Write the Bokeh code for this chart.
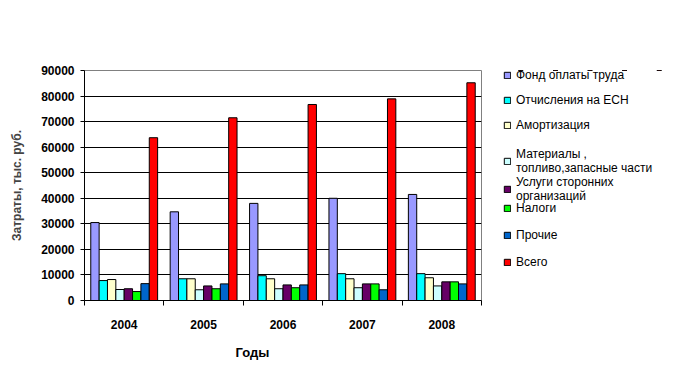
from bokeh.plotting import figure
from bokeh.layouts import row
from bokeh.models import (FactorRange, Range1d, LinearAxis, FixedTicker, Legend,
                          LegendItem, Title, ColumnDataSource)
from bokeh.transform import dodge
from bokeh.embed import file_html
from bokeh.resources import INLINE

years = ["2004", "2005", "2006", "2007", "2008"]
series_names = ["Фонд оплаты труда", "Отчисления на ЕСН", "Амортизация",
                "Материалы ,\nтопливо,запасные части", "Услуги сторонних\nорганизаций",
                "Налоги", "Прочие", "Всего"]
fond = [30500, 34700, 38000, 40000, 41500]
esn = [7800, 8500, 9700, 10500, 10500]
amort = [8200, 8500, 8500, 8500, 8900]
mater = [4300, 4200, 4600, 5000, 5700]
uslugi = [4600, 5700, 6100, 6500, 7300]
nalogi = [3500, 4600, 5000, 6500, 7300]
prochie = [6600, 6500, 6100, 4200, 6500]
vsego = [63700, 71500, 76700, 78900, 85200]
colors = ["#9999FF", "#00FFFF", "#FFFFCC", "#CCFFFF", "#660066", "#00FF00", "#0066CC", "#FF0000"]
y_ticks = [0, 10000, 20000, 30000, 40000, 50000, 60000, 70000, 80000, 90000]

series = [fond, esn, amort, mater, uslugi, nalogi, prochie, vsego]
keys = ["s%d" % i for i in range(len(series))]
data = {"year": years}
for k, s in zip(keys, series):
    data[k] = s
src = ColumnDataSource(data)

FONT = "Liberation Sans"

p = figure(x_range=FactorRange(factors=years), y_range=Range1d(0, 90000),
           width=490, height=384, output_backend="svg", toolbar_location=None,
           x_axis_location=None,
           min_border_left=84, min_border_right=9, min_border_top=70, min_border_bottom=84)
p.background_fill_color = "white"
p.border_fill_color = "white"
p.outline_line_color = "#808080"

n = len(series)
w = 1.0 / (n + 1.5)
for i, (k, c) in enumerate(zip(keys, colors)):
    off = (i - (n - 1) / 2.0) * w
    p.vbar(x=dodge("year", off, range=p.x_range), top=k, width=w, source=src,
           fill_color=c, line_color="black", line_width=1)

# x axis on the factor range's synthetic coordinates:
# labels at category centres, tick marks at category edges
xt = FixedTicker(ticks=[i + 0.5 for i in range(len(years))],
                 minor_ticks=list(range(len(years) + 1)))
xaxis = LinearAxis(ticker=xt,
                   major_label_overrides={i + 0.5: y for i, y in enumerate(years)})
xaxis.major_tick_out = 0
xaxis.major_tick_in = 0
xaxis.minor_tick_out = 5
xaxis.minor_tick_in = 0
xaxis.minor_tick_line_color = "black"
xaxis.axis_line_color = "black"
xaxis.major_label_standoff = 14
xaxis.major_label_text_font = FONT
xaxis.major_label_text_font_size = "12px"
xaxis.major_label_text_font_style = "bold"
xaxis.major_label_text_color = "black"
p.add_layout(xaxis, "below")

p.add_layout(Title(text="Годы", align="left", offset=151, standoff=23,
                   text_font=FONT, text_font_size="13px", text_font_style="bold",
                   text_color="black"), "below")

yax = p.yaxis[0]
yax.ticker = FixedTicker(ticks=y_ticks)
yax.major_tick_out = 4
yax.major_tick_in = 0
yax.minor_tick_line_color = None
yax.axis_line_color = "black"
yax.major_label_standoff = 6
yax.major_label_text_font = FONT
yax.major_label_text_font_size = "12px"
yax.major_label_text_font_style = "bold"
yax.major_label_text_color = "black"
yax.axis_label = "Затраты, тыс. руб."
yax.axis_label_text_font = FONT
yax.axis_label_text_font_size = "12px"
yax.axis_label_text_font_style = "bold"
yax.axis_label_standoff = 14

p.xgrid.visible = False
p.ygrid.ticker = FixedTicker(ticks=y_ticks)
p.ygrid.grid_line_color = "black"
p.ygrid.grid_line_width = 1

# legend panel: a second, axis-less figure holding only the legend.
# Its swatch renderers draw the same series, but outside its visible y range.
lf = figure(x_range=FactorRange(factors=years), y_range=Range1d(-2, -1),
            width=186, height=384, output_backend="svg", toolbar_location=None,
            x_axis_location=None, y_axis_location=None,
            min_border_left=13, min_border_right=0, min_border_top=0, min_border_bottom=0)
lf.outline_line_color = None
lf.xgrid.visible = False
lf.ygrid.visible = False
lf.background_fill_color = "white"
lf.border_fill_color = "white"
swatches = [lf.vbar(x="year", top=k, width=w, source=src, fill_color=c,
                    line_color="black", line_width=1)
            for k, c in zip(keys, colors)]
items = [LegendItem(label=nm, renderers=[r]) for nm, r in zip(series_names, swatches)]

common = dict(orientation="vertical", border_line_color=None, background_fill_alpha=0,
              padding=0, margin=0, glyph_width=8, glyph_height=8, label_standoff=5,
              label_height=13, label_text_font=FONT, label_text_font_size="12px",
              label_text_color="black", label_text_line_height=1.15)
lf.add_layout(Legend(items=items[0:3], location=(0, 168), spacing=11, **common))
lf.add_layout(Legend(items=items[3:5], location=(0, 97), spacing=0, **common))
lf.add_layout(Legend(items=items[5:8], location=(0, 30.75), spacing=13, **common))

layout = row(p, lf, spacing=0)
open("out.html", "w").write(file_html(layout, INLINE))
